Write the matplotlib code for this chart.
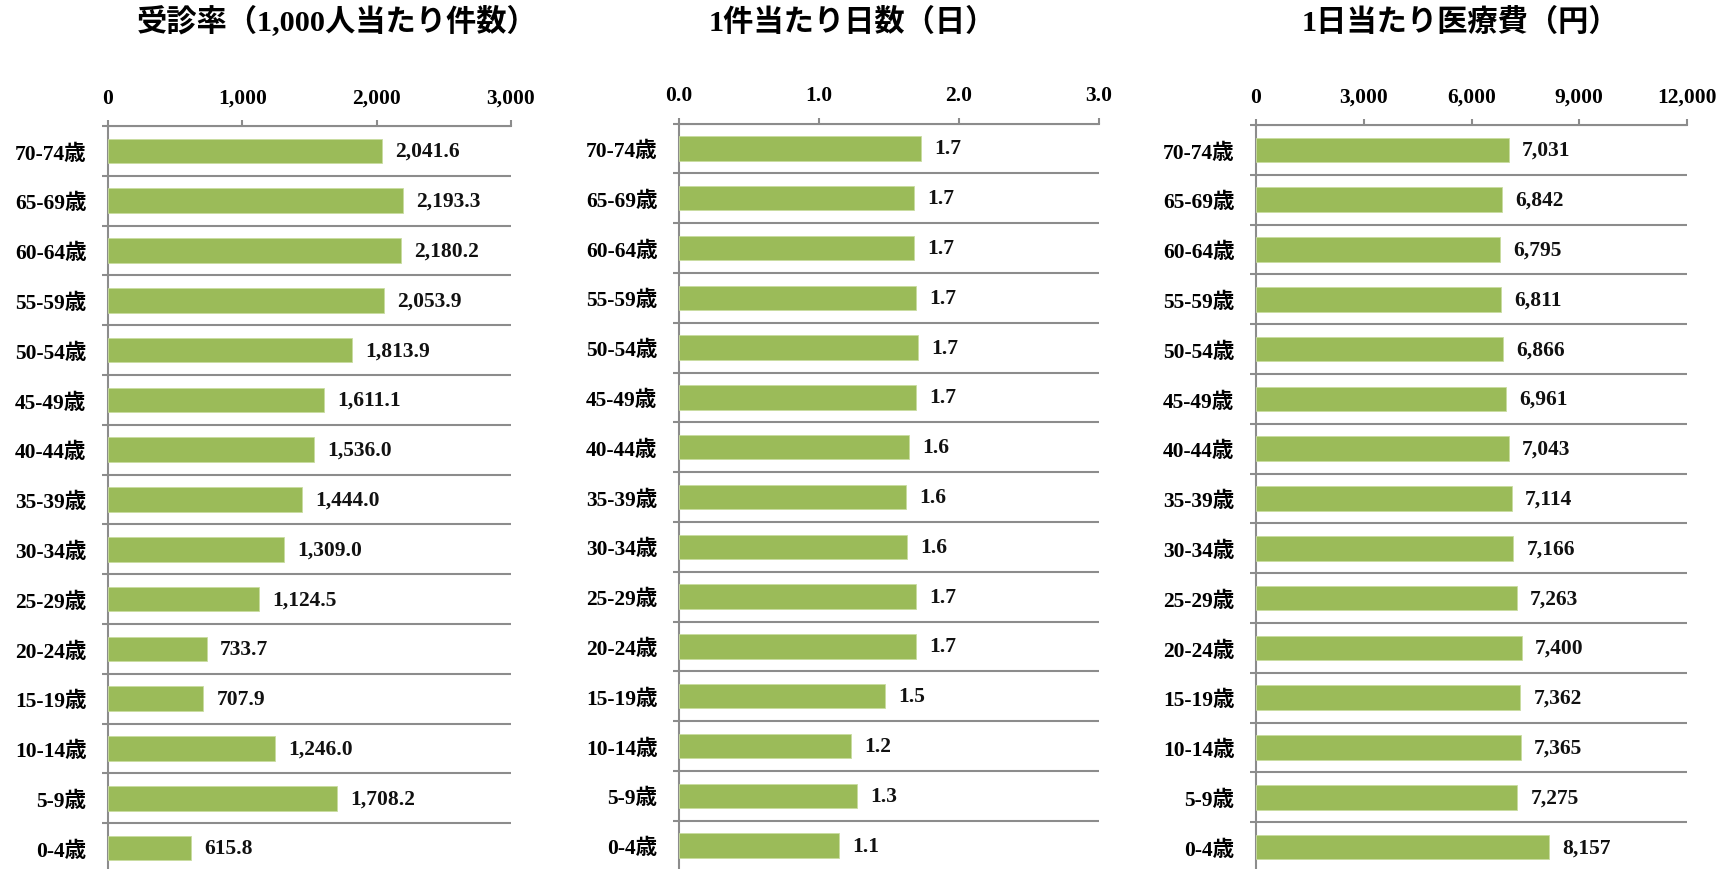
import matplotlib
matplotlib.use("Agg")
import matplotlib.pyplot as plt
import numpy as np

plt.rcParams['font.family'] = ['Liberation Serif', 'Noto Sans CJK JP', 'DejaVu Sans']
plt.rcParams['font.weight'] = 'bold'

# 年齢階級（下から上へ）
ages = ["0-4歳", "5-9歳", "10-14歳", "15-19歳", "20-24歳", "25-29歳", "30-34歳",
        "35-39歳", "40-44歳", "45-49歳", "50-54歳", "55-59歳", "60-64歳",
        "65-69歳", "70-74歳"]

rate = [615.8, 1708.2, 1246.0, 707.9, 733.7, 1124.5, 1309.0, 1444.0,
        1536.0, 1611.1, 1813.9, 2053.9, 2180.2, 2193.3, 2041.6]
days = [1.14, 1.27, 1.23, 1.47, 1.69, 1.69, 1.63, 1.62,
        1.64, 1.69, 1.71, 1.69, 1.68, 1.68, 1.73]
cost = [8157, 7275, 7365, 7362, 7400, 7263, 7166, 7114,
        7043, 6961, 6866, 6811, 6795, 6842, 7031]

titles = ["受診率（1,000人当たり件数）", "1件当たり日数（日）", "1日当たり医療費（円）"]
xmax = [3000, 3.0, 12000]
xticks = [[0, 1000, 2000, 3000], [0, 1.0, 2.0, 3.0], [0, 3000, 6000, 9000, 12000]]
tick_fmt = ["{:,.0f}", "{:.1f}", "{:,.0f}"]
val_fmt = ["{:,.1f}", "{:.1f}", "{:,.0f}"]
series = [rate, days, cost]

W, H = 1727, 870
fig = plt.figure(figsize=(W / 100, H / 100), dpi=100)

# panel geometry in pixels
lefts = [108, 679, 1256]
rights = [511, 1099, 1687]
tops = [127, 124.5, 126]
row = 49.8
title_x = [337, 852, 1460]

green = "#9bbb59"
gray = "#8c8c8c"
y = np.arange(len(ages))

for i in range(3):
    bottom = tops[i] + row * len(ages)
    ax = fig.add_axes([lefts[i] / W, (H - bottom) / H,
                       (rights[i] - lefts[i]) / W, row * len(ages) / H])
    ax.barh(y, series[i], height=0.49, color=green, edgecolor="#c9dca0", linewidth=0.6, zorder=3)
    ax.set_xlim(0, xmax[i])
    ax.set_ylim(-0.5, len(ages) - 0.5)

    for yy, v in zip(y, series[i]):
        ax.annotate(val_fmt[i].format(v), (v, yy), xytext=(9.5, 0), textcoords="offset points",
                    ha="left", va="center", fontsize=15.5, color="#111111")

    ax.set_yticks(y)
    ax.set_yticklabels(ages, fontsize=15.5)
    ax.set_yticks(np.arange(-0.5, len(ages), 1.0), minor=True)
    ax.tick_params(axis="y", which="major", length=0, pad=15.5)
    ax.tick_params(axis="y", which="minor", length=4.3, width=1.5, color=gray, direction="out")
    ax.grid(axis="y", which="minor", color=gray, linewidth=1.5, zorder=1)

    ax.xaxis.tick_top()
    ax.set_xticks(xticks[i])
    ax.set_xticklabels([tick_fmt[i].format(t) for t in xticks[i]], fontsize=15.5)
    ax.tick_params(axis="x", length=4.3, width=1.5, color=gray, pad=9)

    for s in ["top", "left", "bottom"]:
        ax.spines[s].set_color(gray)
        ax.spines[s].set_linewidth(1.5)
    ax.spines["right"].set_visible(False)

    fig.text(title_x[i] / W, 1 - 22 / H, titles[i], ha="center", va="center", fontsize=21.8)

fig.savefig("out.png", dpi=100)
